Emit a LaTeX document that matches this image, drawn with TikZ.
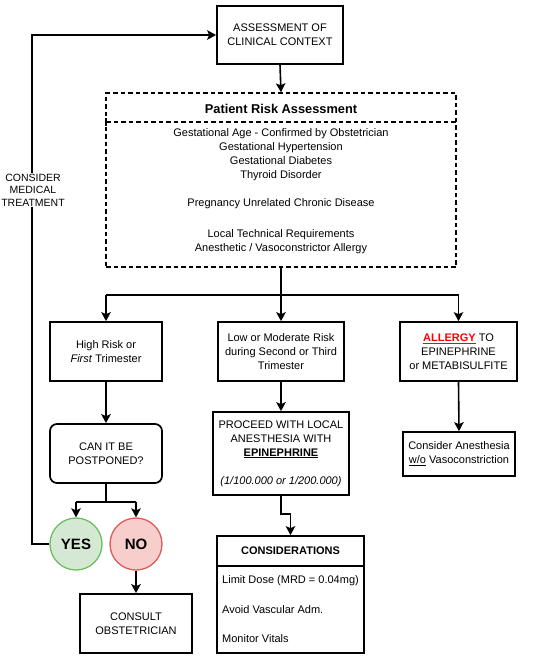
\documentclass[tikz,border=0pt]{standalone}
\usepackage{fontspec}
\setmainfont{Liberation Sans}
\usetikzlibrary{arrows.meta}
\definecolor{yesfill}{HTML}{D5E8D4}
\definecolor{yesline}{HTML}{6CBF5F}
\definecolor{nofill}{HTML}{F8CECC}
\definecolor{noline}{HTML}{E05A55}
\definecolor{allergyred}{HTML}{FF0000}
\begin{document}
\begin{tikzpicture}[x=1pt,y=-1pt,
  txt/.style={font=\fontsize{11}{14}\selectfont, align=center, inner sep=0pt},
  box/.style={draw, line width=1.7pt, rectangle, inner sep=0pt, txt},
  ybox/.style={box, rounded corners=7pt},
  dbox/.style={draw, line width=1.4pt, dash pattern=on 4.5pt off 3pt, inner sep=0pt},
  circ/.style={circle, line width=1.3pt, minimum size=52pt, inner sep=0pt, font=\fontsize{15}{18}\selectfont\bfseries},
  conn/.style={line width=1.6pt},
  arr/.style={conn, -{Stealth[length=9pt,width=9.5pt,inset=2pt]}}
]
\useasboundingbox (0,0) rectangle (550,659);

% top box
\node[box, minimum width=126pt, minimum height=58pt] (ctx) at (280,35) {ASSESSMENT OF\\CLINICAL CONTEXT};

% dashed risk box
\node[dbox, minimum width=350pt, minimum height=174pt] (risk) at (281,180) {};
\coordinate (sepL) at (106,122);
\coordinate (sepR) at (456,122);
\draw[line width=1.4pt, dash pattern=on 4.5pt off 3pt] (sepL) -- (sepR);
\draw[line width=1.4pt] (sepL) ++(0,-4) -- ++(0,8);
\node[txt, font=\fontsize{12.8}{14}\selectfont\bfseries] (riskhead) at (281,109) {Patient Risk Assessment};
\node[txt, anchor=north] (riskbody) at (281,128.5) {Gestational Age - Confirmed by Obstetrician\\
Gestational Hypertension\\
Gestational Diabetes\\
Thyroid Disorder\\[14pt]
Pregnancy Unrelated Chronic Disease\\[17pt]
Local Technical Requirements\\
Anesthetic / Vasoconstrictor Allergy};

% second row
\node[box, minimum width=112pt, minimum height=59pt] (b1) at (106,351.5) {High Risk or\\\textit{First} Trimester};
\node[box, minimum width=126pt, minimum height=59pt] (b2) at (281,351.5) {Low or Moderate Risk\\during Second or Third\\Trimester};
\node[box, minimum width=117pt, minimum height=59pt] (b3) at (458.5,351.5) {\textcolor{allergyred}{\textbf{\underline{ALLERGY}}} TO\\EPINEPHRINE\\or METABISULFITE};

% third row
\node[ybox, minimum width=112pt, minimum height=59pt] (post) at (106,453.5) {CAN IT BE\\POSTPONED?};
\node[box, minimum width=136pt, minimum height=83pt] (proc) at (281,453.5) {PROCEED WITH LOCAL\\ANESTHESIA WITH\\\textbf{\underline{EPINEPHRINE}}\\[14pt]\textit{(1/100.000 or 1/200.000)}};
\node[box, minimum width=112pt, minimum height=44pt] (wov) at (459,454) {Consider Anesthesia\\\underline{w/o} Vasoconstriction};

% circles
\node[circ, draw=yesline, fill=yesfill] (yes) at (76,544) {YES};
\node[circ, draw=noline, fill=nofill] (no) at (136,544) {NO};

% consult
\node[box, minimum width=112pt, minimum height=59pt] (consult) at (136,623.5) {CONSULT\\OBSTETRICIAN};

% considerations
\node[box, minimum width=147pt, minimum height=117pt] (cons) at (290.5,594.5) {};
\coordinate (csL) at (217,566);
\coordinate (csR) at (364,566);
\draw[line width=1.7pt] (csL) -- (csR);
\node[txt, font=\fontsize{11}{14}\selectfont\bfseries] (conshead) at (290.5,551) {CONSIDERATIONS};
\node[txt, anchor=west] (c1) at (222,581) {Limit Dose (MRD = 0.04mg)};
\node[txt, anchor=west] (c2) at (222,610) {Avoid Vascular Adm.};
\node[txt, anchor=west] (c3) at (222,639) {Monitor Vitals};

% connectors
\draw[arr] (ctx.south) -- (risk.north);
\coordinate (fork) at (281,295);
\draw[conn] (risk.south) -- (fork);
\draw[conn] (b1.north |- fork) -- (b3.north |- fork);
\draw[arr] (b1.north |- fork) -- (b1.north);
\draw[arr] (fork) -- (b2.north);
\draw[arr] (b3.north |- fork) -- (b3.north);

\draw[arr] (b1.south) -- (post.north);
\draw[arr] (b2.south) -- (proc.north);
\draw[arr] (b3.south) -- (wov.north);

\coordinate (fork2) at (106,502);
\draw[conn] (post.south) -- (fork2);
\draw[conn] (yes.north |- fork2) -- (no.north |- fork2);
\draw[arr] (yes.north |- fork2) -- (yes.north);
\draw[arr] (no.north |- fork2) -- (no.north);
\draw[arr] (no.south) -- (consult.north);

\coordinate (jog) at (281,514);
\draw[arr] (proc.south) -- (jog) -- (cons.north |- jog) -- (cons.north);

% loop back
\coordinate (loopB) at (32,544);
\coordinate (loopT) at (32,35);
\draw[arr] (yes.west) -- (loopB) -- (loopT) -- (ctx.west);
\node[txt, fill=white, inner sep=1pt, font=\fontsize{10.5}{12.5}\selectfont] (treat) at (33,190) {CONSIDER\\MEDICAL\\TREATMENT};
\end{tikzpicture}
\end{document}
